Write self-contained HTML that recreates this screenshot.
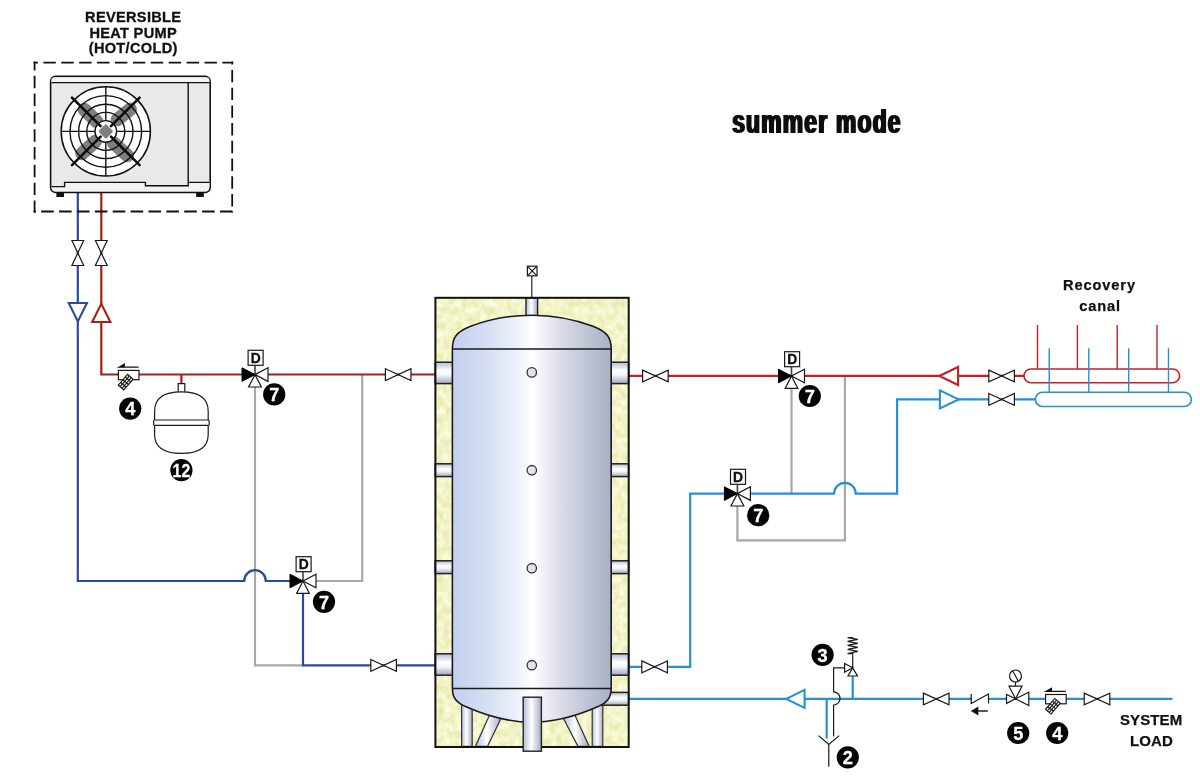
<!DOCTYPE html>
<html lang="en">
<head>
<meta charset="utf-8">
<title>summer mode</title>
<style>
html,body{margin:0;padding:0;background:#fff;}
body{width:1200px;height:777px;overflow:hidden;font-family:"Liberation Sans",sans-serif;}
svg{display:block;opacity:0.999;}
text{font-family:"Liberation Sans",sans-serif;font-weight:bold;fill:#111;}
.lbl{font-size:14.6px;letter-spacing:0.3px;stroke:#111;stroke-width:0.3px;text-anchor:middle;}
.pr{fill:none;stroke:#a92014;stroke-width:2.2;stroke-linejoin:miter;}
.pr2{fill:none;stroke:#c41e26;stroke-width:2.2;stroke-linejoin:miter;}
.pb{fill:none;stroke:#2a4a9c;stroke-width:2.2;stroke-linejoin:miter;}
.pc{fill:none;stroke:#2490d8;stroke-width:2.2;stroke-linejoin:miter;}
.pg{fill:none;stroke:#a8a8a8;stroke-width:2.2;stroke-linejoin:miter;}
.k{fill:#fff;stroke:#1a1a1a;stroke-width:1.2;stroke-linejoin:miter;}
.kn{fill:none;stroke:#1a1a1a;stroke-width:1.2;}
.num{fill:#fff;font-size:18.2px;text-anchor:middle;stroke:#fff;stroke-width:0.3px;}
.dd{font-size:13.8px;text-anchor:middle;fill:#111;stroke:#111;stroke-width:0.35px;}
</style>
</head>
<body>
<svg width="1200" height="777" viewBox="0 0 1200 777">
<defs>
  <!-- horizontal gate valve -->
  <g id="vh"><path class="k" stroke-width="1.1" d="M-12.8,-5.9 L12.8,5.9 L12.8,-5.9 L-12.8,5.9 Z"/></g>
  <!-- vertical gate valve -->
  <g id="vv"><path class="k" stroke-width="1.1" d="M-5.9,-12.5 L5.9,12.5 L-5.9,12.5 L5.9,-12.5 Z"/></g>
  <!-- three way valve with D actuator -->
  <g id="v3">
    <line x1="0" y1="0" x2="0" y2="-9" stroke="#444" stroke-width="1.6"/>
    <path d="M0,0 L-13,-6.8 L-13,6.8 Z" fill="#000" stroke="#000" stroke-width="1"/>
    <path class="k" d="M0,0 L13,-6.8 L13,6.8 Z"/>
    <path class="k" d="M0,0 L-6.4,12.4 L6.4,12.4 Z"/>
    <rect class="k" x="-6.9" y="-24.3" width="15" height="15"/>
    <text class="dd" x="0.7" y="-12">D</text>
  </g>
  <!-- Y strainer -->
  <g id="ys">
    <path d="M-9.6,-7.6 H10 M-9.6,-7.6 L-4.4,-10.6 L-4.4,-7.6 Z" fill="#111" stroke="#111" stroke-width="1.3"/>
    <rect class="k" x="-10.2" y="-4.4" width="20.6" height="9.3"/>
    <g transform="translate(-1,-0.4) rotate(41)">
      <rect class="k" x="0" y="0" width="7.3" height="14.2" stroke-width="1"/>
      <path class="kn" stroke-width="0.9" d="M2.45,0 V14.2 M4.9,0 V14.2 M0,3.55 H7.3 M0,7.1 H7.3 M0,10.65 H7.3"/>
    </g>
  </g>
  <linearGradient id="tank" x1="0" x2="1" y1="0" y2="0">
    <stop offset="0" stop-color="#c4d0ee"/>
    <stop offset="0.18" stop-color="#d1dbf2"/>
    <stop offset="0.38" stop-color="#e9eef9"/>
    <stop offset="0.5" stop-color="#ffffff"/>
    <stop offset="0.56" stop-color="#f3f4f9"/>
    <stop offset="0.7" stop-color="#d6dae5"/>
    <stop offset="0.85" stop-color="#bec5d5"/>
    <stop offset="1" stop-color="#a8b0c6"/>
  </linearGradient>
  <linearGradient id="stub" x1="0" x2="0" y1="0" y2="1">
    <stop offset="0" stop-color="#b4bcd6"/>
    <stop offset="0.4" stop-color="#ffffff"/>
    <stop offset="0.6" stop-color="#f4f5fa"/>
    <stop offset="1" stop-color="#9ea6c0"/>
  </linearGradient>
  <linearGradient id="noz" x1="0" x2="1" y1="0" y2="0">
    <stop offset="0" stop-color="#b4bcd6"/>
    <stop offset="0.45" stop-color="#ffffff"/>
    <stop offset="1" stop-color="#a4abc4"/>
  </linearGradient>
  <filter id="fat" x="-5%" y="-20%" width="110%" height="140%">
    <feMorphology operator="dilate" radius="1 0"/>
  </filter>
  <filter id="ins" x="0" y="0" width="100%" height="100%" color-interpolation-filters="sRGB">
    <feTurbulence type="fractalNoise" baseFrequency="0.16 0.13" numOctaves="3" seed="11" result="n"/>
    <feColorMatrix in="n" type="matrix" values="0.13 0 0 0 0.885  0.13 0 0 0 0.89  0.36 0 0 0 0.6  0 0 0 0 1"/>
  </filter>
</defs>

<rect width="1200" height="777" fill="#ffffff"/>

<!-- ========== TEXT ========== -->
<text class="lbl" x="133.2" y="22.3">REVERSIBLE</text>
<text class="lbl" x="133.2" y="37.7">HEAT PUMP</text>
<text class="lbl" x="133.2" y="53.3">(HOT/COLD)</text>
<text x="732.2" y="133.2" font-size="33" textLength="169.6" letter-spacing="1.8" lengthAdjust="spacingAndGlyphs" fill="#0a0a0a" filter="url(#fat)">summer mode</text>
<text x="1063" y="290.1" font-size="14.6" letter-spacing="0.9" stroke="#111" stroke-width="0.25">Recovery</text>
<text x="1079.2" y="310.5" font-size="14.6" letter-spacing="0.9" stroke="#111" stroke-width="0.25">canal</text>
<text x="1151.1" y="725.4" font-size="15" letter-spacing="0.12" text-anchor="middle" stroke="#111" stroke-width="0.25">SYSTEM</text>
<text x="1151.4" y="745.8" font-size="15" letter-spacing="0.12" text-anchor="middle" stroke="#111" stroke-width="0.25">LOAD</text>

<!-- ========== PIPES ========== -->
<g id="pipes">
  <!-- grey bypass lines -->
  <path class="pg" d="M255,386 V665.4 H303"/>
  <path class="pg" d="M315,581 H362.2 V374.6"/>
  <path class="pg" d="M791.5,388 V493.6"/>
  <path class="pg" d="M844.9,376 V540.4 H737.4 V505"/>
  <!-- dark blue (return to heat pump) -->
  <path class="pb" d="M77.8,192.4 V581 H244.2 A10.8,10.8 0 0 1 265.8,581 H292"/>
  <path class="pb" d="M303,592 V665.4 H436"/>
  <!-- red left -->
  <path class="pr" d="M101.3,192.4 V374.5 H436"/>
  <path class="pr" d="M181.4,374.6 V385"/>
  <!-- red right -->
  <path class="pr2" d="M628,375.9 H1026"/>
  <!-- cyan -->
  <path class="pc" d="M628,666.8 H690.2 V493.6 H834.1 A10.8,10.8 0 0 1 855.7,493.6 H897.1 V399.3 H1036"/>
  <path class="pc" d="M628,698.9 H1172.4"/>
  <path class="pc" d="M826.7,699 V738.6"/>
  <path class="pc" d="M852.7,676 V699"/>
  <!-- recovery canal manifolds -->
  <path class="pr2" style="stroke-width:1.4;stroke:#c82026" d="M1037.5,325 V369 M1077.4,325 V369 M1117.2,325 V369 M1157,325 V369"/>
  <rect x="1024" y="369" width="155.6" height="13.8" rx="6.9" fill="#fff" stroke="#c82026" stroke-width="1.6"/>
  <path class="pc" style="stroke-width:1.4;stroke:#2490d8" d="M1049.2,348.2 V392 M1088.8,348.2 V392 M1128.7,348.2 V392 M1168.5,348.2 V392"/>
  <rect x="1035.4" y="392.3" width="156" height="14.2" rx="7.1" fill="#fff" stroke="#2490d8" stroke-width="1.6"/>
</g>

<!-- ========== HEAT PUMP ========== -->
<g id="heatpump">
  <g fill="none" stroke="#111" stroke-width="1.8">
    <path d="M33.6,62.6 H233.2" stroke-dasharray="12.4 5.5" stroke-dashoffset="8.1"/>
    <path d="M232.2,61.6 V212.5" stroke-dasharray="12.4 5.34" stroke-dashoffset="9.44"/>
    <path d="M33.6,211.5 H233.2" stroke-dasharray="12.6 5.28" stroke-dashoffset="10.3"/>
    <path d="M34.6,61.6 V212.5" stroke-dasharray="12.4 5.41" stroke-dashoffset="3.6"/>
  </g>
  <!-- feet -->
  <rect x="56.4" y="191.6" width="7.6" height="5.4" fill="#111"/>
  <rect x="196.2" y="191.6" width="7.6" height="5.4" fill="#111"/>
  <!-- body -->
  <rect x="50.6" y="76.4" width="159.6" height="116" rx="5" ry="5" fill="#e9e9e9" stroke="#111" stroke-width="1.6"/>
  <path d="M51.4,82.6 H209.4" stroke="#111" stroke-width="1.4" fill="none"/>
  <path d="M51.4,80 Q51.4,77.2 55,77.2 H205.8 Q209.4,77.2 209.4,80 V81.9 H51.4 Z" fill="#f4f4f4"/>
  <path d="M51.4,186.6 H64.6 V182.4 H145.4 V185.8 H188.2 V182.4 H209.4 V187 Q209.4,191.6 205,191.6 H55.8 Q51.4,191.6 51.4,187 Z" fill="#f3f3f3"/>
  <path d="M51.4,186.6 H64.6 V182.4 H145.4 V185.8 H188.2 V82.6 M188.2,182.4 H209.4" stroke="#111" stroke-width="1.4" fill="none"/>
  <!-- fan -->
  <circle cx="105.8" cy="131.4" r="44.6" fill="#fff" stroke="#111" stroke-width="1.5"/>
  <g stroke="#7f7f7f" stroke-width="13.5" stroke-linecap="round" fill="none">
    <path d="M96.6,121.4 L84.4,109.6"/>
    <path d="M117.4,119.6 L130.2,109.2"/>
    <path d="M95.2,141.4 L82,153.4"/>
    <path d="M113.6,143 L127.4,155.4"/>
  </g>
  <g fill="none" stroke="#111" stroke-width="1.4">
    <circle cx="105.8" cy="131.4" r="35.8"/>
    <circle cx="105.8" cy="131.4" r="27.2"/>
    <circle cx="105.8" cy="131.4" r="19"/>
    <path d="M61.2,131.4 H150.4 M105.8,86.8 V176"/>
  </g>
  <circle cx="105.8" cy="131.4" r="10.8" fill="#fff" stroke="#111" stroke-width="1.4"/>
  <rect x="-5.4" y="-5.4" width="10.8" height="10.8" rx="1.6" fill="#808080" transform="translate(105.8,131.4) rotate(45)"/>
  <g stroke="#0a0a0a" stroke-width="2.6" stroke-linecap="round" fill="none">
    <path d="M100.6,126.2 L72,97.6"/>
    <path d="M111,126.2 L139.6,97.6"/>
    <path d="M100.6,136.6 L72,165.2"/>
    <path d="M111,136.6 L139.6,165.2"/>
  </g>
</g>

<!-- ========== TANK ========== -->
<g id="tankgrp">
  <!-- insulation -->
  <rect x="435.2" y="297.8" width="193.4" height="449.2" fill="#eff0c2"/>
  <rect x="435.2" y="297.8" width="193.4" height="449.2" filter="url(#ins)"/>
  <!-- legs -->
  <g stroke="#333" stroke-width="1.2" fill="url(#noz)">
    <rect x="461.6" y="700" width="10.6" height="46.4"/>
    <rect x="592.2" y="700" width="10.6" height="46.4"/>
    <path d="M490,714 L501.2,718 L487.4,746.4 L475.4,746.4 Z"/>
    <path d="M574.4,714 L563.2,718 L578,746.4 L589.2,746.4 Z"/>
  </g>
  <!-- side stubs -->
  <g stroke="#222" stroke-width="1.5" fill="url(#stub)">
    <rect x="435.2" y="362.2" width="18" height="21.4"/>
    <rect x="435.2" y="463.8" width="18" height="12.8"/>
    <rect x="435.2" y="560.8" width="18" height="12.8"/>
    <rect x="435.2" y="653.8" width="18" height="21.4"/>
    <rect x="610.4" y="362.2" width="18.2" height="21.4"/>
    <rect x="610.4" y="463.8" width="18.2" height="12.8"/>
    <rect x="610.4" y="560.8" width="18.2" height="12.8"/>
    <rect x="610.4" y="653.8" width="18.2" height="21.4"/>
    <rect x="598" y="692.4" width="30.6" height="12.8"/>
  </g>
  <!-- top nozzle -->
  <rect x="526" y="297.8" width="11.6" height="22" fill="url(#noz)" stroke="#222" stroke-width="1.4"/>
  <!-- tank body -->
  <path d="M452.4,349 C452.4,338 456,332 470,326.4 C492,318.2 512,315.2 531.8,315.2 C551.6,315.2 571.6,318.2 593.6,326.4 C607.6,332 611.2,338 611.2,349 V688.4 C611.2,698 607,702.6 597,707 C575,716.6 553,722.2 531.8,722.2 C510.6,722.2 488.6,716.6 466.6,707 C456.6,702.6 452.4,698 452.4,688.4 Z" fill="url(#tank)" stroke="#1a1a1a" stroke-width="1.6"/>
  <path d="M452.4,349 H611.2 M452.4,688.4 H611.2" stroke="#1a1a1a" stroke-width="1.5" fill="none"/>
  <g fill="#dfe3ee" stroke="#333" stroke-width="1.3">
    <circle cx="531.8" cy="372.4" r="4.7"/>
    <circle cx="531.8" cy="470.2" r="4.7"/>
    <circle cx="531.8" cy="568.2" r="4.7"/>
    <circle cx="531.8" cy="665.2" r="4.7"/>
  </g>
  <!-- insulation frame -->
  <rect x="435.4" y="297.8" width="193.3" height="449.2" fill="none" stroke="#111" stroke-width="2"/>
  <!-- bottom nozzle -->
  <rect x="523.2" y="697.2" width="18.2" height="54" fill="url(#noz)" stroke="#222" stroke-width="1.4"/>
  <!-- top vent -->
  <line x1="531.8" y1="276" x2="531.8" y2="297" stroke="#222" stroke-width="1.2"/>
  <rect class="k" x="527.4" y="266.2" width="9.6" height="9.6"/>
  <path class="kn" d="M527.4,266.2 L537,275.8 M537,266.2 L527.4,275.8" stroke-width="1"/>
</g>

<!-- ========== SYMBOLS ========== -->
<g id="symbols">
  <!-- heat pump isolation valves & flow arrows -->
  <use href="#vv" x="77.8" y="253"/>
  <use href="#vv" x="101.3" y="253"/>
  <path d="M68.75,303 H86.95 L77.85,321.4 Z" fill="#fff" stroke="#2a4a9c" stroke-width="2.1" stroke-linejoin="miter"/>
  <path d="M101.3,303.9 L110.4,322 H92.2 Z" fill="#fff" stroke="#a92014" stroke-width="2.1" stroke-linejoin="miter"/>
  <!-- strainer left -->
  <use href="#ys" x="128.6" y="374.8"/>
  <!-- expansion vessel -->
  <rect class="k" x="178.2" y="383.6" width="6.6" height="9"/>
  <path class="k" d="M154.6,411 C154.6,397.5 165,391.8 181.4,391.8 C197.8,391.8 208.2,397.5 208.2,411 V434.5 C208.2,448 197.8,453.4 181.4,453.4 C165,453.4 154.6,448 154.6,434.5 Z"/>
  <rect class="k" x="153.6" y="420" width="55.6" height="5.4" rx="1.2"/>
  <!-- 3-way valves -->
  <use href="#v3" x="255" y="374.6"/>
  <use href="#v3" x="303" y="581"/>
  <use href="#v3" x="791.5" y="376"/>
  <use href="#v3" x="737.4" y="493.6"/>
  <!-- gate valves -->
  <use href="#vh" x="398.2" y="374.6"/>
  <use href="#vh" x="383.6" y="665.4"/>
  <use href="#vh" x="655.4" y="376"/>
  <use href="#vh" x="654.6" y="666.8"/>
  <use href="#vh" x="1001.6" y="376"/>
  <use href="#vh" x="1001.6" y="399.4"/>
  <use href="#vh" x="936.2" y="699"/>
  <use href="#vh" x="1097" y="699"/>
  <!-- flow arrows right -->
  <path d="M939.4,376 L958.1,367 V385 Z" fill="#fff" stroke="#c41e26" stroke-width="2.1" stroke-linejoin="miter"/>
  <path d="M958.6,399.4 L939.9,390.4 V408.4 Z" fill="#fff" stroke="#2490d8" stroke-width="2.1" stroke-linejoin="miter"/>
  <path d="M786.3,698.9 L804.6,689.9 V707.9 Z" fill="#fff" stroke="#2490d8" stroke-width="2.1" stroke-linejoin="miter"/>
  <!-- safety valve (3) and drain funnel (2) -->
  <path class="kn" d="M844.6,667.8 H833.6 V691.8 A6.4,6.6 0 0 1 833.6,705 V736.6"/>
  <path class="kn" d="M818.6,735.6 L828.8,744.4 L839.2,735.6 M828.8,744.4 V766.8"/>
  <path class="k" d="M852.7,667.8 L844.6,663.4 V672.2 Z"/>
  <path class="k" d="M852.7,667.8 L848,676 H857.4 Z"/>
  <path class="kn" stroke-width="1.4" d="M852.7,667.8 V653.6 H847.6 L857.8,651.4 L847.6,649.4 L857.8,647.4 L847.6,645.4 L857.8,643.4 L847.6,641.4 L857.8,639.4 L847.6,637.6 H853"/>
  <!-- check valve -->
  <rect x="972" y="693" width="16" height="11.6" fill="#fff"/>
  <path class="kn" d="M971.2,694 V703.6 L988.5,694 V703.6" stroke-width="1.3"/>
  <path d="M978.2,711 H987.8" stroke="#111" stroke-width="1.4"/>
  <path d="M970.8,711 L978.4,706.6 V715.4 Z" fill="#111"/>
  <!-- pressure reducing valve (5) -->
  <path class="k" d="M1015.5,698.8 L1006.5,694.4 V703.4 Z"/>
  <path class="k" d="M1015.5,698.8 L1028.8,692.2 V705.6 Z"/>
  <path class="k" d="M1015.5,698.8 L1009,686.2 H1022 Z"/>
  <path class="kn" d="M1015.5,686.2 V682"/>
  <circle class="k" cx="1015.5" cy="676" r="6"/>
  <path class="kn" d="M1012.6,670.8 L1018.4,681.2"/>
  <!-- strainer right -->
  <use href="#ys" x="1055.8" y="698.9"/>
  <!-- number badges -->
  <circle cx="130.2" cy="408.6" r="11.1" fill="#050505"/><text class="num" x="130.2" y="415.35">4</text>
  <circle cx="181.4" cy="470.2" r="11.1" fill="#050505"/><text class="num" x="181.4" y="476.95" textLength="17.6" lengthAdjust="spacingAndGlyphs">12</text>
  <circle cx="274.2" cy="394.4" r="11.1" fill="#050505"/><text class="num" x="274.2" y="401.15">7</text>
  <circle cx="324" cy="601.8" r="11.1" fill="#050505"/><text class="num" x="324" y="608.55">7</text>
  <circle cx="809.8" cy="396" r="11.1" fill="#050505"/><text class="num" x="809.8" y="402.75">7</text>
  <circle cx="758.2" cy="515.2" r="11.1" fill="#050505"/><text class="num" x="758.2" y="521.95">7</text>
  <circle cx="822.6" cy="654.8" r="11.1" fill="#050505"/><text class="num" x="822.6" y="661.55">3</text>
  <circle cx="847.8" cy="757.4" r="11.1" fill="#050505"/><text class="num" x="847.8" y="764.15">2</text>
  <circle cx="1018.2" cy="733" r="11.1" fill="#050505"/><text class="num" x="1018.2" y="739.75">5</text>
  <circle cx="1057.2" cy="733" r="11.1" fill="#050505"/><text class="num" x="1057.2" y="739.75">4</text>
</g>

</svg>
</body>
</html>
